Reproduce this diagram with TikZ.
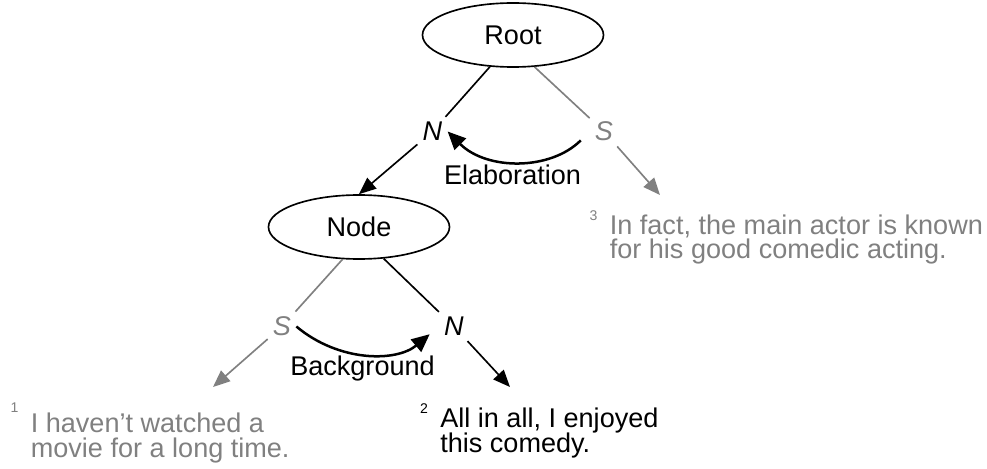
\documentclass[tikz,border=0pt]{standalone}
\usepackage{fontspec}
\setmainfont{Liberation Sans}
\usetikzlibrary{arrows.meta, shapes.geometric}
\colorlet{satgray}{black!50}
\lineskiplimit=-\maxdimen
\newcommand{\segno}[2][2.8mm]{\llap{\raisebox{#1}{\fontsize{8}{8}\selectfont #2}\hspace{2.5mm}}}

\begin{document}
\begin{tikzpicture}[x=0.2mm, y=0.2mm,
            font=\fontsize{15.4}{14.2}\selectfont,
            unit/.style = {ellipse, draw, line width=0.33mm, minimum width=36.2mm, minimum height=12.8mm, inner sep=0},
            role/.style = {font=\fontsize{15.4}{14.2}\selectfont\itshape, inner sep=1mm},
            edu/.style = {anchor=base west, align=left, inner sep=0},
            link/.style = {line width=0.33mm},
            arrow/.style = {-{Triangle[length=3.4mm, width=2.8mm]}, line width=0.33mm},
            relarrow/.style = {-{Triangle[length=3.6mm, width=3.2mm]}, line width=0.5mm}]
            \useasboundingbox (0,0) rectangle (987,468);
            % nodes
            \node (root) [unit] at (513,433) {Root};
            \node (mid) [unit] at (359,241) {Node};
            \node (nuc_a) [role] at (432.5,336.5) {N};
            \node (sat_a) [role, satgray] at (604,336.5) {S};
            \node (sat_b) [role, satgray] at (282,141.5) {S};
            \node (nuc_b) [role] at (454,141.5) {N};
            \coordinate (end_three) at (660,273);
            \coordinate (end_one) at (213,81);
            \coordinate (end_two) at (510,81);
            % Connections
            \draw [link] (root.234) -- (nuc_a);
            \draw [link, satgray] (root.304) -- (sat_a);
            \draw [arrow] (nuc_a) -- (mid.north);
            \draw [arrow, satgray] (sat_a) -- (end_three);
            \draw [link, satgray] (mid.243) -- (sat_b);
            \draw [link] (mid.308) -- (nuc_b);
            \draw [arrow, satgray] (sat_b) -- (end_one);
            \draw [arrow] (nuc_b) -- (end_two);
            \draw [relarrow, shorten <=2.5mm] (sat_a.west) to [bend left=45] (nuc_a.east);
            \draw [relarrow, shorten >=2.4mm] (sat_b.east) to [bend right=40] (nuc_b.west);
            % Text
            \node (lbl_elab) at (512.5,293) {Elaboration};
            \node (lbl_back) at (362.5,99.5) {Background};
            \node (txt_three) [edu, satgray] at (609.5,209) {\segno{3}In fact, the main actor is known\\for his good comedic acting.};
            \node (txt_one) [edu, satgray] at (30.5,11) {\segno[4mm]{1}I haven’t watched a\\movie for a long time.};
            \node (txt_two) [edu] at (440,16) {\segno{2}All in all, I enjoyed\\this comedy.};
\end{tikzpicture}
\end{document}
